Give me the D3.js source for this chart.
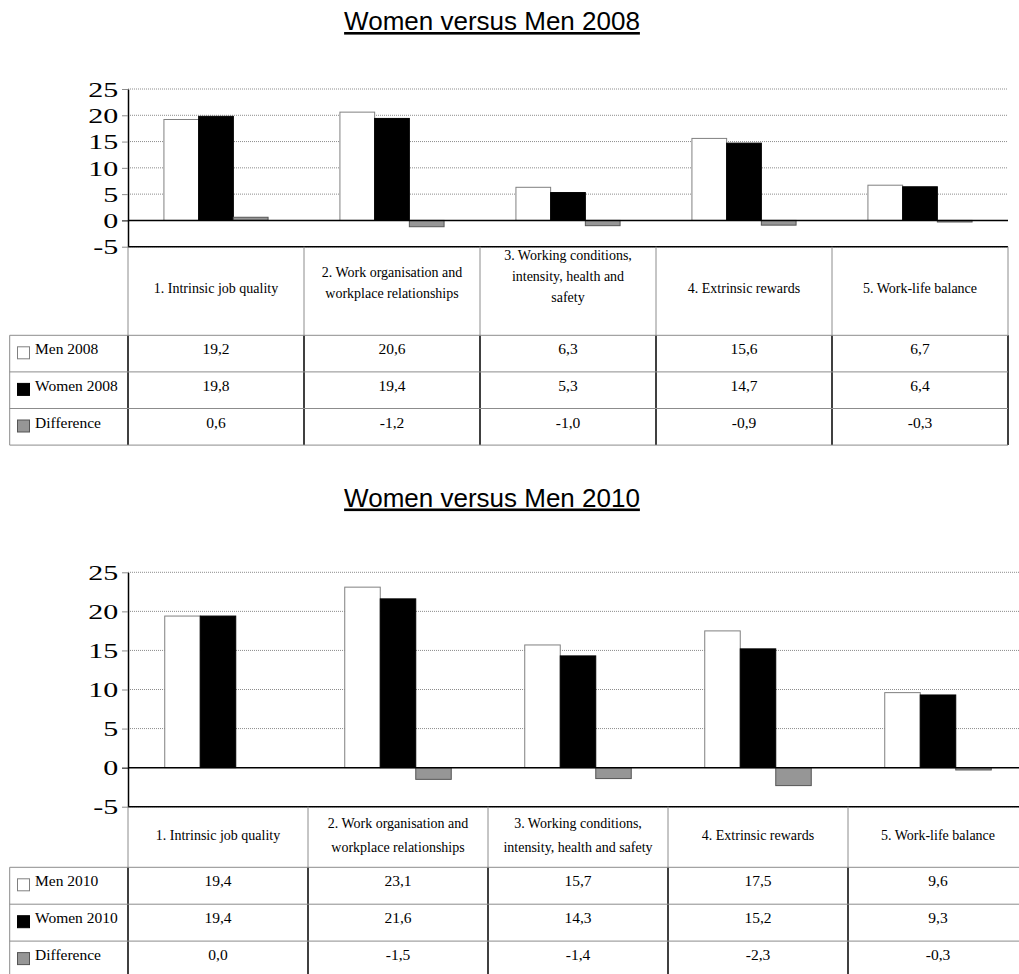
<!DOCTYPE html>
<html>
<head>
<meta charset="utf-8">
<script src="https://cdn.jsdelivr.net/npm/d3@7"></script>
<style>
 body { margin: 0; background: #fff; }
 text { font-family: "Liberation Serif", "Times New Roman", serif; }
</style>
</head>
<body>
<div id="chart"></div>
<script>
// header labels, already split the way the table wraps them
var headers2008 = [
 ["1. Intrinsic job quality"],
 ["2. Work organisation and", "workplace relationships"],
 ["3. Working conditions,", "intensity, health and", "safety"],
 ["4. Extrinsic rewards"],
 ["5. Work-life balance"]
];
var headers2010 = [
 ["1. Intrinsic job quality"],
 ["2. Work organisation and", "workplace relationships"],
 ["3. Working conditions,", "intensity, health and safety"],
 ["4. Extrinsic rewards"],
 ["5. Work-life balance"]
];
var series2008 = ["Men 2008", "Women 2008", "Difference"];
var series2010 = ["Men 2010", "Women 2010", "Difference"];

var men2008 = [19.2, 20.6, 6.3, 15.6, 6.7];
var women2008 = [19.8, 19.4, 5.3, 14.7, 6.4];
var diff2008 = [0.6, -1.2, -1.0, -0.9, -0.3];

var men2010 = [19.4, 23.1, 15.7, 17.5, 9.6];
var women2010 = [19.4, 21.6, 14.3, 15.2, 9.3];
var diff2010 = [0.0, -1.5, -1.4, -2.3, -0.3];

var yTicks = [-5, 0, 5, 10, 15, 20, 25];

var fills = ["#ffffff", "#000000", "#969696"];
var strokes = ["#808080", "#000000", "#555555"];

var locale = d3.formatLocale({decimal: ",", thousands: ".", grouping: [3], currency: ["", ""], minus: "-"});
var fmtVal = locale.format(".1f");
var fmtTick = locale.format("d");

var svg = d3.select("#chart")
 .append("svg")
   .attr("width", 1019)
   .attr("height", 974);

function drawPanel(cfg) {
 var g = svg.append("g");
 var values = cfg.values;

 // title
 g.append("text")
   .attr("x", 492)
   .attr("y", cfg.titleY)
   .attr("text-anchor", "middle")
   .style("font-family", "'Liberation Sans', Arial, sans-serif")
   .style("font-size", "26px")
   .style("text-decoration", "underline")
   .text(cfg.title);

 var y = d3.scaleLinear()
   .domain([-5, 25])
   .range([cfg.plotBottom, cfg.plotTop]);
 var x0 = d3.scaleBand()
   .domain(d3.range(cfg.headers.length))
   .range([cfg.left, cfg.right]);
 var x1 = d3.scaleBand()
   .domain(d3.range(cfg.series.length))
   .range([0, x0.bandwidth()])
   .paddingOuter(1.035);
 var bw = x0.bandwidth();

 // dotted gridlines
 g.append("g")
   .selectAll("line")
   .data(yTicks.filter(function (t) { return t !== 0; }))
   .enter()
   .append("line")
     .attr("x1", cfg.left)
     .attr("x2", cfg.right)
     .attr("y1", function (d) { return y(d); })
     .attr("y2", function (d) { return y(d); })
     .attr("stroke", "#8c8c8c")
     .attr("stroke-width", 1)
     .attr("stroke-dasharray", "1,1");

 // bars
 values.forEach(function (vals, s) {
   g.append("g")
     .selectAll("rect")
     .data(vals)
     .enter()
     .append("rect")
       .attr("x", function (d, i) { return x0(i) + x1(s); })
       .attr("width", x1.bandwidth())
       .attr("y", function (d) { return y(Math.max(0, d)); })
       .attr("height", function (d) { return Math.abs(y(d) - y(0)); })
       .attr("fill", fills[s])
       .attr("stroke", strokes[s])
       .attr("stroke-width", 1);
 });

 // zero line and plot bottom
 g.append("line")
   .attr("x1", cfg.left).attr("x2", cfg.right)
   .attr("y1", y(0)).attr("y2", y(0))
   .attr("stroke", "#000").attr("stroke-width", 1.5);
 g.append("line")
   .attr("x1", cfg.left).attr("x2", cfg.right)
   .attr("y1", y(-5)).attr("y2", y(-5))
   .attr("stroke", "#000").attr("stroke-width", 1.5);

 // Y axis
 var axis = g.append("g")
   .attr("transform", "translate(" + cfg.left + ",0)")
   .call(d3.axisLeft(y).tickValues(yTicks).tickSize(6).tickSizeOuter(0).tickFormat(fmtTick));
 axis.select(".domain").attr("stroke", "#000").attr("stroke-width", 1.5);
 axis.selectAll(".tick line")
   .attr("stroke", function (d) { return d === 0 ? "#000" : "#8c8c8c"; });
 axis.selectAll(".tick text")
   .attr("x", -6.5)
   .attr("dy", "0.36em")
   .attr("transform", "scale(1.5,1)")
   .style("font-family", "'Liberation Serif', 'Times New Roman', serif")
   .style("font-size", "20px")
   .attr("fill", "#000");

 // table
 var t = g.append("g");
 var rowsTop = cfg.headerBottom;
 var rowsBottom = rowsTop + cfg.series.length * cfg.rowH;
 var xs = d3.range(cfg.headers.length + 1).map(function (i) { return cfg.left + i * bw; });

 // header cell borders (grey) and data cell borders (black)
 t.selectAll("line.hv")
   .data(xs)
   .enter()
   .append("line")
     .attr("x1", function (d) { return d; }).attr("x2", function (d) { return d; })
     .attr("y1", cfg.plotBottom).attr("y2", rowsTop)
     .attr("stroke", "#8c8c8c").attr("stroke-width", 1);
 t.selectAll("line.dv")
   .data(xs)
   .enter()
   .append("line")
     .attr("x1", function (d) { return d; }).attr("x2", function (d) { return d; })
     .attr("y1", rowsTop).attr("y2", rowsBottom)
     .attr("stroke", "#000").attr("stroke-width", 1.5);
 t.append("line")
   .attr("x1", cfg.legendLeft).attr("x2", cfg.legendLeft)
   .attr("y1", rowsTop).attr("y2", rowsBottom)
   .attr("stroke", "#8c8c8c").attr("stroke-width", 1);
 t.selectAll("line.hr")
   .data(d3.range(cfg.series.length + 1))
   .enter()
   .append("line")
     .attr("x1", cfg.legendLeft).attr("x2", cfg.right)
     .attr("y1", function (d) { return rowsTop + d * cfg.rowH; })
     .attr("y2", function (d) { return rowsTop + d * cfg.rowH; })
     .attr("stroke", "#8c8c8c").attr("stroke-width", 1);

 // header texts
 var headMid = (cfg.plotBottom + rowsTop) / 2;
 cfg.headers.forEach(function (lines, i) {
   var n = lines.length;
   var mid = headMid + cfg.headerShift[n - 1];
   t.append("g")
     .selectAll("text")
     .data(lines)
     .enter()
     .append("text")
       .attr("x", x0(i) + bw / 2)
       .attr("y", function (d, j) { return mid + (j - (n - 1) / 2) * cfg.lineH + 5; })
       .attr("text-anchor", "middle")
       .style("font-size", "14px")
       .text(function (d) { return d; });
 });

 // rows: legend swatch, series name, values
 cfg.series.forEach(function (name, s) {
   var top = rowsTop + s * cfg.rowH;
   t.append("rect")
     .attr("x", 17.5).attr("y", top + 11.5)
     .attr("width", 12).attr("height", 12)
     .attr("fill", fills[s])
     .attr("stroke", strokes[s]);
   t.append("text")
     .attr("x", 35).attr("y", top + 19)
     .style("font-size", "15.5px")
     .text(name);
   t.append("g")
     .selectAll("text")
     .data(values[s])
     .enter()
     .append("text")
       .attr("x", function (d, i) { return x0(i) + bw / 2; })
       .attr("y", top + 19)
       .attr("text-anchor", "middle")
       .style("font-size", "15.5px")
       .text(function (d) { return fmtVal(d); });
 });
}

drawPanel({
 title: "Women versus Men 2008",
 titleY: 30,
 plotTop: 89,
 plotBottom: 246.7,
 left: 128,
 right: 1008,
 legendLeft: 9.7,
 headerBottom: 335.3,
 rowH: 36.6,
 lineH: 21,
 headerShift: [-3, -9, -15],
 headers: headers2008,
 series: series2008,
 values: [men2008, women2008, diff2008]
});

drawPanel({
 title: "Women versus Men 2010",
 titleY: 506.5,
 plotTop: 572.3,
 plotBottom: 806.7,
 left: 128,
 right: 1028,
 legendLeft: 9.7,
 headerBottom: 867.3,
 rowH: 36.9,
 lineH: 23.4,
 headerShift: [-2, -2, -2],
 headers: headers2010,
 series: series2010,
 values: [men2010, women2010, diff2010]
});
</script>
</body>
</html>
